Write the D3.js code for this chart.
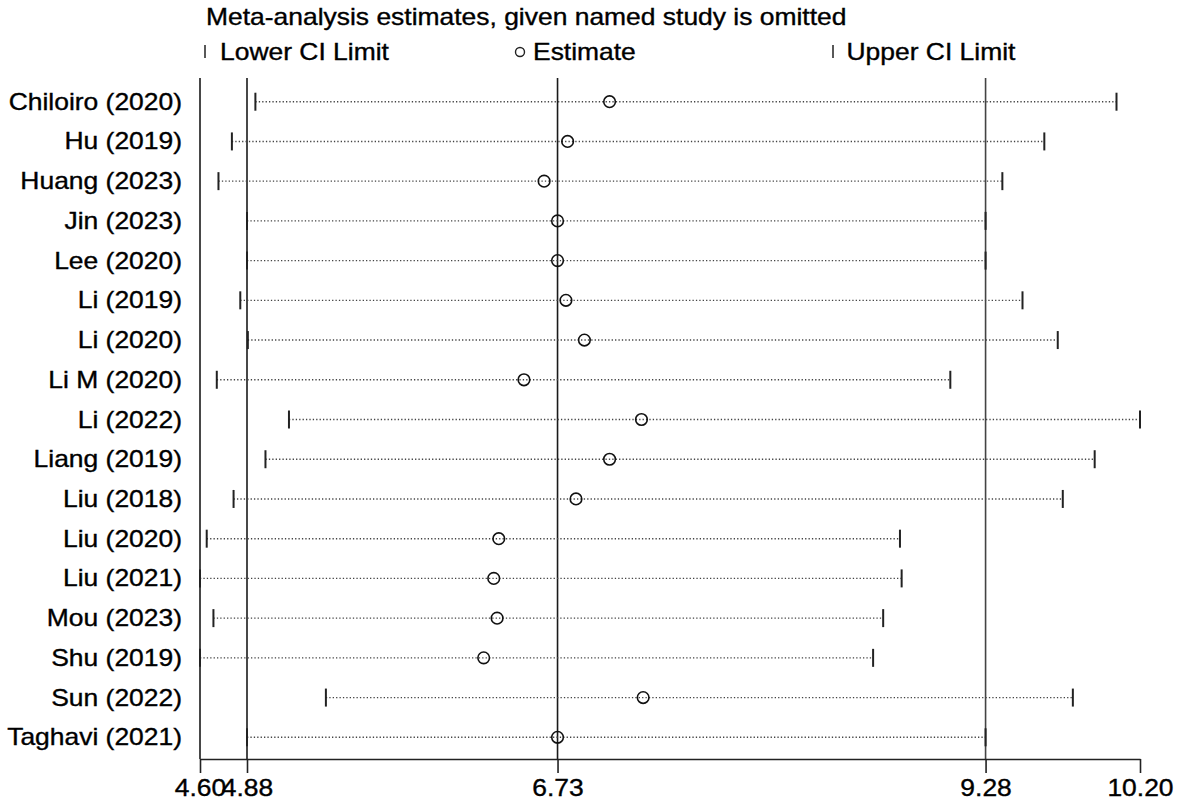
<!DOCTYPE html>
<html>
<head>
<meta charset="utf-8">
<script src="https://cdn.jsdelivr.net/npm/d3@7"></script>
<style>
  html, body { margin: 0; padding: 0; background: #fff; }
  svg { display: block; font-family: "Liberation Sans", Arial, sans-serif; }
  text { stroke: #000; stroke-width: 0.35px; }
</style>
</head>
<body>
<div class="canvas"></div>
<script>
// data
const studies = ['Chiloiro (2020)', 'Hu (2019)', 'Huang (2023)', 'Jin (2023)', 'Lee (2020)',
    'Li (2019)', 'Li (2020)', 'Li M (2020)', 'Li (2022)', 'Liang (2019)', 'Liu (2018)',
    'Liu (2020)', 'Liu (2021)', 'Mou (2023)', 'Shu (2019)', 'Sun (2022)', 'Taghavi (2021)'];
const estimate = [7.04, 6.79, 6.65, 6.73, 6.73, 6.78, 6.89, 6.53, 7.23, 7.04, 6.84, 6.38, 6.35, 6.37, 6.29, 7.24, 6.73];
const lower = [4.93, 4.79, 4.71, 4.88, 4.88, 4.84, 4.885, 4.70, 5.13, 4.99, 4.80, 4.64, 4.60, 4.68, 4.60, 5.35, 4.88];
const upper = [10.06, 9.63, 9.38, 9.28, 9.28, 9.50, 9.71, 9.07, 10.20, 9.93, 9.74, 8.77, 8.78, 8.67, 8.61, 9.80, 9.28];
const overall = [4.88, 6.73, 9.28];
const tickVals = [4.60, 4.88, 6.73, 9.28, 10.20];
const titleText = 'Meta-analysis estimates, given named study is omitted';
const legendLabels = ['Lower CI Limit', 'Estimate', 'Upper CI Limit'];

const svgDims = { width: 1181, height: 803 };
const plot = { left: 200, right: 1140, top: 78, bottom: 759 };
const stretch = 'scale(1.14,1)';
const fontSize = 23.2;

const rows = studies.map((s, i) => ({ study: s, est: estimate[i], lo: lower[i], hi: upper[i] }));

const svg = d3.select('.canvas')
    .append('svg')
    .attr('width', svgDims.width)
    .attr('height', svgDims.height);

const x = d3.scaleLinear()
    .domain([tickVals[0], tickVals[tickVals.length - 1]])
    .range([plot.left, plot.right]);

const y = d3.scalePoint()
    .domain(studies)
    .range([101.7, 737.3]);

// title and legend
svg.append('text')
    .attr('transform', `translate(206, 24.5) ${stretch}`)
    .attr('font-size', fontSize)
    .text(titleText);

const legend = svg.append('g').attr('class', 'legend');
const legendY = 52;
legend.append('line')
    .attr('x1', 205).attr('x2', 205)
    .attr('y1', legendY - 7).attr('y2', legendY + 6)
    .attr('stroke', '#222').attr('stroke-width', 1.5);
legend.append('circle')
    .attr('cx', 520).attr('cy', legendY)
    .attr('r', 4.5)
    .attr('fill', 'none').attr('stroke', '#222').attr('stroke-width', 1.4);
legend.append('line')
    .attr('x1', 833).attr('x2', 833)
    .attr('y1', legendY - 7).attr('y2', legendY + 6)
    .attr('stroke', '#222').attr('stroke-width', 1.5);
[220, 533, 846.5].forEach((lx, i) => {
    legend.append('text')
        .attr('transform', `translate(${lx}, ${legendY + 8}) ${stretch}`)
        .attr('font-size', fontSize)
        .text(legendLabels[i]);
});

const graph = svg.append('g');

// reference lines: plot edge and overall estimate / CI
graph.selectAll('line.ref')
    .data([tickVals[0], ...overall])
    .enter()
    .append('line')
        .attr('class', 'ref')
        .attr('x1', d => x(d)).attr('x2', d => x(d))
        .attr('y1', plot.top).attr('y2', plot.bottom)
        .attr('stroke', (d, i) => i === 3 ? '#444' : '#1a1a1a')
        .attr('stroke-width', 1.6);

// dotted CI spans
graph.selectAll('line.span')
    .data(rows)
    .enter()
    .append('line')
        .attr('class', 'span')
        .attr('x1', d => x(d.lo)).attr('x2', d => x(d.hi))
        .attr('y1', d => y(d.study)).attr('y2', d => y(d.study))
        .attr('stroke', '#444')
        .attr('stroke-width', 1.4)
        .style('stroke-dasharray', '1.3 2.1');

// lower / upper limit ticks
['lo', 'hi'].forEach(key => {
    graph.selectAll(`line.tick-${key}`)
        .data(rows)
        .enter()
        .append('line')
            .attr('class', `tick-${key}`)
            .attr('x1', d => x(d[key])).attr('x2', d => x(d[key]))
            .attr('y1', d => y(d.study) - 9).attr('y2', d => y(d.study) + 9)
            .attr('stroke', '#222')
            .attr('stroke-width', 2);
});

// estimates
graph.selectAll('circle.est')
    .data(rows)
    .enter()
    .append('circle')
        .attr('class', 'est')
        .attr('cx', d => x(d.est))
        .attr('cy', d => y(d.study))
        .attr('r', 5.8)
        .attr('fill', 'none')
        .attr('stroke', '#111')
        .attr('stroke-width', 1.6);

// study labels
graph.selectAll('text.label')
    .data(rows)
    .enter()
    .append('text')
        .attr('class', 'label')
        .attr('transform', d => `translate(182, ${y(d.study) + 8}) ${stretch}`)
        .attr('text-anchor', 'end')
        .attr('font-size', fontSize)
        .text(d => d.study);

// x axis
const xAxis = d3.axisBottom(x)
    .tickValues(tickVals)
    .tickFormat(d3.format('.2f'))
    .tickSize(14)
    .tickSizeOuter(0);

const xAxisGroup = svg.append('g')
    .attr('transform', `translate(0, ${plot.bottom})`)
    .call(xAxis);

xAxisGroup.select('.domain')
    .attr('stroke', '#222')
    .attr('stroke-width', 1.6);
xAxisGroup.selectAll('.tick line')
    .attr('stroke', '#222')
    .attr('stroke-width', 1.6);
xAxisGroup.selectAll('.tick text')
    .attr('y', 37.5)
    .attr('dy', 0)
    .attr('transform', stretch)
    .attr('font-size', fontSize)
    .attr('font-family', '"Liberation Sans", Arial, sans-serif')
    .attr('fill', '#000');
</script>
</body>
</html>
